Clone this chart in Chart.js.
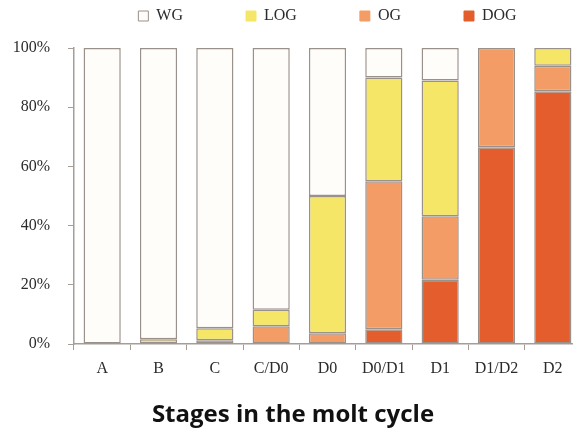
<!DOCTYPE html>
<html>
<head>
<meta charset="utf-8">
<script src="https://cdn.jsdelivr.net/npm/chart.js@4.4.1/dist/chart.umd.min.js"></script>
<style>
  html, body { margin: 0; padding: 0; background: #fff; overflow: hidden; }
  #wrap { position: relative; width: 586px; height: 434px; }
</style>
</head>
<body>
<div id="wrap"><canvas id="chart"></canvas></div>
<script>
// Share of gastroliths per molt stage (%), stacked bottom-up DOG, OG, LOG, WG.
// null = segment not present in that stage.
const stages = ["A", "B", "C", "C/D0", "D0", "D0/D1", "D1", "D1/D2", "D2"];
const dogValues = [null, null, null, null, null, 5, 21.7, 66.5, 85.4];
const ogValues  = [null, null, 1.3, 6, 3.6, 50, 21.5, 33.5, 8.6];
const logValues = [null, 1.6, 4, 5.6, 46.4, 35, 45.8, null, 6];
const wgValues  = [100, 98.4, 94.7, 88.4, 50, 10, 11, null, null];
const yTicks = [0, 20, 40, 60, 80, 100];

const AXIS_GRAY = "#a49d98";
const BAR_EDGE = "#9a918b";
const SERIF = "'Liberation Serif', 'DejaVu Serif', serif";

const mk = (label, data, color) => ({
  label, data,
  backgroundColor: color,
  borderColor: BAR_EDGE,
  borderWidth: 1.5,
  borderSkipped: false,
  categoryPercentage: 1,
  barPercentage: 0.66,
});

new Chart(document.getElementById("chart").getContext("2d"), {
  type: "bar",
  data: {
    labels: stages,
    datasets: [
      mk("DOG", dogValues, "#e35e2c"),
      mk("OG", ogValues, "#f39c65"),
      mk("LOG", logValues, "#f5e667"),
      mk("WG", wgValues, "#fffdfa"),
    ],
  },
  options: {
    responsive: true,
    maintainAspectRatio: false,
    animation: false,
    layout: { padding: { top: -55, left: 5, right: 5, bottom: 0 } },
    scales: {
      x: {
        stacked: true,
        grid: { display: true, drawOnChartArea: false, tickLength: 6, color: AXIS_GRAY, lineWidth: 1 },
        border: { color: AXIS_GRAY, width: 1.5 },
        ticks: { color: "#2b2b2b", padding: 9, font: { family: SERIF, size: 16 } },
      },
      // empty top axis, only used as a gap between legend and plot
      x2: {
        type: "category",
        position: "top",
        labels: stages,
        grid: { display: false },
        border: { display: false },
        ticks: { display: false },
        afterFit(scale) { scale.height = 14; },
      },
      y: {
        stacked: true,
        min: 0, max: 100,
        afterBuildTicks(scale) { scale.ticks = yTicks.map(v => ({ value: v })); },
        afterFit(scale) { scale.width = 69; },
        grid: { display: true, drawOnChartArea: false, tickLength: 6, color: AXIS_GRAY, lineWidth: 1 },
        border: { color: AXIS_GRAY, width: 1.5 },
        ticks: {
          color: "#2b2b2b", padding: 18,
          font: { family: SERIF, size: 16 },
          callback: v => v + "%",
        },
      },
    },
    plugins: {
      legend: {
        display: true,
        position: "top",
        fullSize: false,
        reverse: true,
        labels: {
          color: "#2b2b2b",
          boxWidth: 10,
          boxHeight: 10,
          padding: 63,
          font: { family: SERIF, size: 16 },
          generateLabels(chart) {
            const items = Chart.defaults.plugins.legend.labels.generateLabels(chart);
            items.forEach(it => {
              if (it.text !== "WG") it.strokeStyle = it.fillStyle;
              it.lineWidth = 1;
            });
            return items;
          },
        },
      },
      title: {
        display: true,
        position: "bottom",
        text: "Stages in the molt cycle",
        color: "#111",
        font: { family: "'Open Sans', 'Noto Sans', sans-serif", size: 24, weight: "bold" },
        padding: { top: 14, bottom: 4 },
      },
      tooltip: { enabled: false },
    },
  },
});
</script>
</body>
</html>
